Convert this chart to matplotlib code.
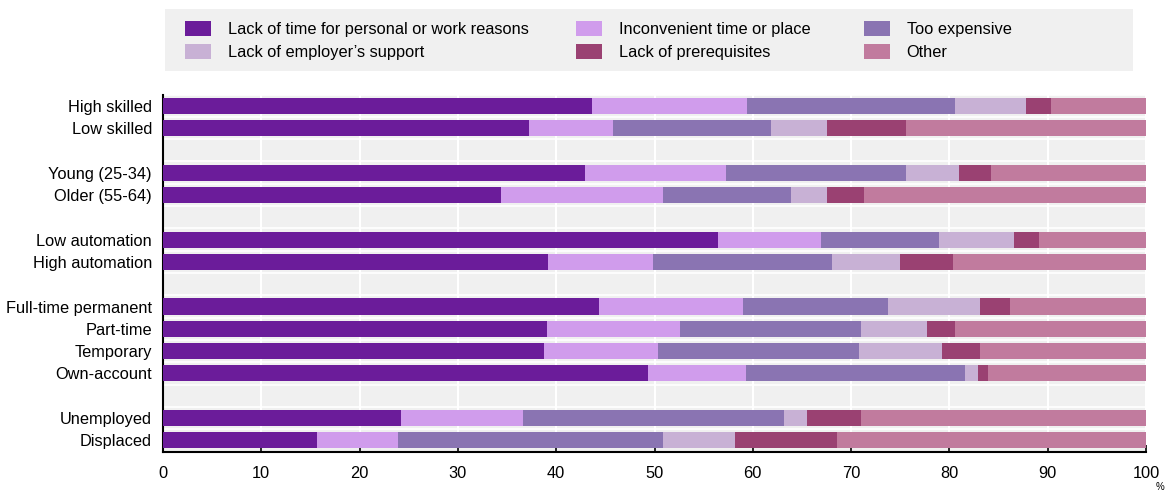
import matplotlib
matplotlib.use('Agg')
import matplotlib.pyplot as plt
import numpy as np
from matplotlib.patches import Rectangle, Patch

plt.rcParams['font.family'] = ['Liberation Sans Narrow', 'Liberation Sans', 'DejaVu Sans']

# data (shares in %)
groups = ['High skilled', 'Low skilled', 'Young (25-34)', 'Older (55-64)',
          'Low automation', 'High automation', 'Full-time permanent', 'Part-time',
          'Temporary', 'Own-account', 'Unemployed', 'Displaced']
rows = [0, 1, 3, 4, 6, 7, 9, 10, 11, 12, 14, 15]

series_names = ['Lack of time for personal or work reasons', "Lack of employer\u2019s support",
                'Inconvenient time or place', 'Lack of prerequisites',
                'Too expensive', 'Other']

lack_time = [43.6, 37.2, 42.9, 34.4, 56.5, 39.2, 44.4, 39.1, 38.8, 49.3, 24.2, 15.7]
inconvenient = [15.8, 8.6, 14.4, 16.5, 10.4, 10.6, 14.6, 13.5, 11.6, 10.0, 12.4, 8.2]
too_expensive = [21.2, 16.1, 18.3, 13.0, 12.0, 18.3, 14.8, 18.4, 20.4, 22.3, 26.6, 27.0]
employer = [7.2, 5.6, 5.4, 3.6, 7.7, 6.9, 9.3, 6.7, 8.4, 1.3, 2.3, 7.3]
prerequisites = [2.5, 8.1, 3.2, 3.8, 2.5, 5.4, 3.1, 2.9, 3.9, 1.0, 5.5, 10.4]
other = [9.7, 24.4, 15.8, 28.7, 10.9, 19.6, 13.8, 19.4, 16.9, 16.1, 29.0, 31.4]

stack = [
    ('Lack of time for personal or work reasons', lack_time, '#6b1c9a'),
    ('Inconvenient time or place', inconvenient, '#d09cec'),
    ('Too expensive', too_expensive, '#8a74b2'),
    ("Lack of employer\u2019s support", employer, '#c8b1d5'),
    ('Lack of prerequisites', prerequisites, '#9a4172'),
    ('Other', other, '#c17b9e'),
]

fig = plt.figure(figsize=(11.66, 4.92), dpi=100)
ax = fig.add_axes([163 / 1166, 40 / 492, 983 / 1166, 357 / 492])
ax.set_facecolor('#f0f0f0')

left = np.zeros(len(groups))
handles = {}
for name, vals, col in stack:
    ax.barh(rows, vals, left=left, height=0.72, color=col, linewidth=0, zorder=3)
    handles[name] = Patch(facecolor=col, edgecolor='none')
    left += np.array(vals)

# white separators and grid
for y in np.arange(-0.5, 16, 1.0):
    ax.axhline(y, color='white', lw=1.2, zorder=1)
ax.set_xticks(np.arange(0, 101, 10))
ax.grid(axis='x', color='white', lw=1.5, zorder=1)
ax.set_axisbelow(True)

ax.set_xlim(0, 100)
ax.set_ylim(15.52, -0.48)
ax.set_yticks(rows)
ax.set_yticklabels(groups, fontsize=11.8)
ax.tick_params(axis='y', length=0, pad=8)
ax.tick_params(axis='x', direction='in', length=5, width=1.2, labelsize=11.8, pad=10)
for s in ['top', 'right']:
    ax.spines[s].set_visible(False)
ax.spines['left'].set_linewidth(1.5)
ax.spines['bottom'].set_linewidth(1.5)

fig.text(1164 / 1166, 5 / 492, '%', fontsize=7, ha='right', va='center')

# legend box
fig.patches.append(Rectangle((165 / 1166, (492 - 71) / 492), 968 / 1166, 62 / 492,
                             transform=fig.transFigure, facecolor='#f0f0f0',
                             edgecolor='none', zorder=0))
legend_cols = [
    (185, [series_names[0], series_names[1]]),
    (576, [series_names[2], series_names[3]]),
    (864, [series_names[4], series_names[5]]),
]
for x0, names in legend_cols:
    fig.legend([handles[n] for n in names], names, loc='upper left',
               bbox_to_anchor=(x0 / 1166, (492 - 21) / 492),
               frameon=False, fontsize=11.8, borderpad=0, borderaxespad=0,
               handlelength=1.6, handleheight=1.0, handletextpad=1.0,
               labelspacing=0.45)

fig.savefig('out.png', dpi=100)
